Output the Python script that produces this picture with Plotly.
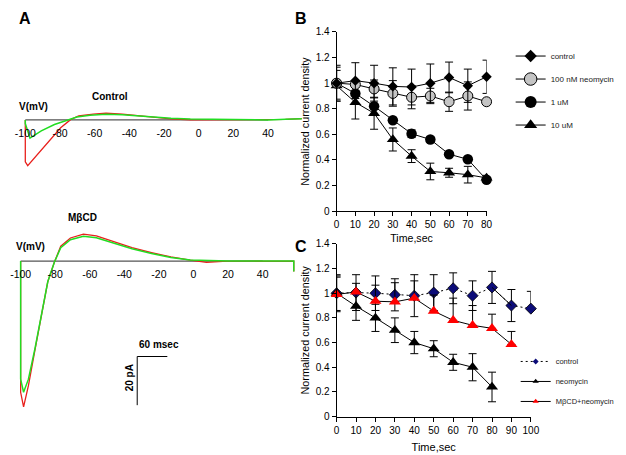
import plotly.graph_objects as go

# ---------------- data ----------------
# Panel A: current (pA) vs ramp voltage (mV)
ctrl_red_mv = [-100, -100, -98.6, -90.8, -85.2, -79.6, -73.9, -69.2, -60.8, -53.4, -44.0, -34.7, -25.4, -16.0, -4.8, 10, 20, 30, 40, 50, 59.5]
ctrl_red_pa = [0, -17.2, -18.8, -12.5, -7.9, -3.2, 0.1, 1.7, 2.4, 2.8, 2.4, 1.7, 1.2, 0.4, 0.0, 0.1, -0.1, 0.1, 0.0, 0.2, 0.5]
ctrl_grn_mv = [-100, -100, -97.3, -90.8, -83.2, -75.8, -70.2, -62.7, -53.4, -44.0, -34.7, -25.4, -16.0, -4.8, 9.9, 20, 30, 40, 50, 59.5]
ctrl_grn_pa = [0, -1.5, -7.5, -4.5, -1.9, -0.1, 1.2, 1.9, 2.3, 2.1, 1.6, 1.1, 0.7, 0.4, 0.2, 0.1, 0.2, 0.0, 0.3, 0.5]
mbcd_red_mv = [-100, -100, -98.3, -95.5, -91.7, -88.0, -84.3, -80.5, -76.8, -71.2, -63.7, -56.2, -46.8, -35.6, -24.3, -13.1, -1.9, 7.5, 16.9, 30, 40, 58, 58]
mbcd_red_pa = [0, -53.9, -59.9, -51.2, -36.5, -21.9, -8.5, -0.5, 6.1, 9.5, 11.1, 10.4, 8.1, 5.5, 3.5, 1.7, 0.4, -0.5, -0.1, 0.0, 0.1, 0.0, -4.3]
mbcd_grn_mv = [-100, -100, -98.3, -95.5, -91.7, -88.0, -84.3, -80.5, -76.8, -71.2, -63.7, -56.2, -46.8, -35.6, -24.3, -13.1, -1.9, 7.5, 20, 40, 58, 58]
mbcd_grn_pa = [0, -48.5, -53.9, -48.5, -35.9, -21.7, -8.5, -0.5, 5.5, 8.8, 10.2, 9.6, 7.5, 5.1, 3.1, 1.5, 0.4, 0.1, 0.0, 0.0, 0.0, -4.3]
a_tick_mv = [-100, -80, -60, -40, -20, 0, 20, 40]

# Panel B: normalized current density vs time
b_time = [0, 10, 20, 30, 40, 50, 60, 70, 80]
b_control = [1.00, 1.02, 1.00, 0.975, 0.97, 1.00, 1.045, 0.98, 1.05]
b_control_err = [0.14, 0.14, 0.14, 0.145, 0.14, 0.15, 0.12, 0.13, 0.13]
b_neo100nM = [1.00, 0.99, 0.955, 0.92, 0.89, 0.90, 0.855, 0.90, 0.855]
b_neo100nM_err = [0.125, 0.02, 0.07, 0.10, 0.09, 0.06, 0.075, 0.11, 0.01]
b_neo1uM = [1.00, 0.92, 0.82, 0.71, 0.605, 0.56, 0.445, 0.405, 0.245]
b_neo1uM_err = [0.02, 0.02, 0.02, 0.02, 0.03, 0.02, 0.02, 0.02, 0.02]
b_neo10uM = [0.98, 0.85, 0.765, 0.56, 0.43, 0.31, 0.30, 0.285, 0.26]
b_neo10uM_err = [0.12, 0.13, 0.125, 0.09, 0.05, 0.065, 0.035, 0.065, 0.02]

# Panel C
c_time_ctrl = [0, 10, 20, 30, 40, 50, 60, 70, 80, 90, 100]
c_control = [1.00, 1.005, 1.00, 0.987, 0.98, 1.005, 1.04, 0.98, 1.047, 0.90, 0.875]
c_control_err = [0.15, 0.145, 0.14, 0.13, 0.17, 0.145, 0.125, 0.12, 0.13, 0.13, 0.14]
c_control_err_minus = [0.15, 0.145, 0.14, 0.13, 0.17, 0.145, 0.125, 0.12, 0.13, 0.13, 0.0]
c_time_neo = [0, 10, 20, 30, 40, 50, 60, 70, 80]
c_neomycin = [1.00, 0.895, 0.80, 0.70, 0.60, 0.55, 0.44, 0.40, 0.24]
c_neomycin_err = [0.14, 0.115, 0.11, 0.10, 0.09, 0.065, 0.065, 0.11, 0.12]
c_time_mbcd = [0, 10, 20, 30, 40, 50, 60, 70, 80, 90]
c_mbcd_neo = [0.99, 1.01, 0.935, 0.93, 0.96, 0.855, 0.78, 0.74, 0.715, 0.585]
c_mbcd_neo_err = [0.14, 0.07, 0.13, 0.155, 0.14, 0.13, 0.18, 0.16, 0.115, 0.105]

y_ticks = [0, 0.2, 0.4, 0.6, 0.8, 1.0, 1.2, 1.4]

# ---------------- layout helpers ----------------
W, H = 626, 455
FONT = "Liberation Sans, Arial, sans-serif"


def fx(p):
    return p / W


def fy(p):
    return 1 - p / H


fig = go.Figure()

# ---------------- panel A traces ----------------
RED = "#e8201c"
GREEN = "#22dd22"
fig.add_trace(go.Scatter(x=ctrl_red_mv, y=ctrl_red_pa, mode="lines", line=dict(color=RED, width=1.3),
                         xaxis="x3", yaxis="y3", showlegend=False))
fig.add_trace(go.Scatter(x=ctrl_grn_mv, y=ctrl_grn_pa, mode="lines", line=dict(color=GREEN, width=1.5),
                         xaxis="x3", yaxis="y3", showlegend=False))
fig.add_trace(go.Scatter(x=mbcd_red_mv, y=mbcd_red_pa, mode="lines", line=dict(color=RED, width=1.3),
                         xaxis="x4", yaxis="y4", showlegend=False))
fig.add_trace(go.Scatter(x=mbcd_grn_mv, y=mbcd_grn_pa, mode="lines", line=dict(color=GREEN, width=1.5),
                         xaxis="x4", yaxis="y4", showlegend=False))


def eb(arr, minus=None):
    d = dict(type="data", array=arr, color="black", thickness=1, width=4, visible=True)
    if minus is not None:
        d["symmetric"] = False
        d["arrayminus"] = minus
    return d


# ---------------- panel B traces ----------------
LINE = dict(color="black", width=1)
fig.add_trace(go.Scatter(x=b_time, y=b_neo10uM, mode="lines+markers", line=LINE,
                         marker=dict(symbol="triangle-up", size=10.5, color="black"),
                         error_y=eb(b_neo10uM_err), cliponaxis=False, showlegend=False, xaxis="x", yaxis="y"))
fig.add_trace(go.Scatter(x=b_time, y=b_neo1uM, mode="lines+markers", line=LINE,
                         marker=dict(symbol="circle", size=10.5, color="black"),
                         error_y=eb(b_neo1uM_err), cliponaxis=False, showlegend=False, xaxis="x", yaxis="y"))
fig.add_trace(go.Scatter(x=b_time, y=b_neo100nM, mode="lines+markers", line=LINE,
                         marker=dict(symbol="circle", size=10, color="#c4c4c4", line=dict(color="black", width=1)),
                         error_y=eb(b_neo100nM_err), cliponaxis=False, showlegend=False, xaxis="x", yaxis="y"))
fig.add_trace(go.Scatter(x=b_time, y=b_control, mode="lines+markers", line=LINE,
                         marker=dict(symbol="diamond", size=8, color="black"),
                         error_y=eb(b_control_err), cliponaxis=False, showlegend=False, xaxis="x", yaxis="y"))

# legend entries for B
b_leg = [("control", "diamond", 9.5, "black", 0),
         ("100 nM neomycin", "circle", 12.5, "#c4c4c4", 1),
         ("1 uM", "circle", 12, "black", 0),
         ("10 uM", "triangle-up", 11.5, "black", 0)]
for i, (nm, sym, sz, col, lw) in enumerate(b_leg):
    fig.add_trace(go.Scatter(x=[None], y=[None], mode="lines+markers", name=nm, line=LINE,
                             marker=dict(symbol=sym, size=sz, color=col, line=dict(color="black", width=lw)),
                             legend="legend", legendgroup="b%d" % i, xaxis="x", yaxis="y"))

# ---------------- panel C traces ----------------
NAVY = "#0c0c78"
fig.add_trace(go.Scatter(x=c_time_ctrl, y=c_control, mode="lines+markers",
                         line=dict(color="black", width=1, dash="2px,3px"),
                         marker=dict(symbol="diamond", size=8.5, color=NAVY, line=dict(color="black", width=0.8)),
                         error_y=eb(c_control_err, c_control_err_minus), cliponaxis=False, showlegend=False,
                         xaxis="x2", yaxis="y2"))
# solid segment between 80 and 90 s of the control series
fig.add_trace(go.Scatter(x=c_time_ctrl[8:10], y=c_control[8:10], mode="lines", line=LINE,
                         cliponaxis=False, showlegend=False, xaxis="x2", yaxis="y2"))
fig.add_trace(go.Scatter(x=c_time_neo, y=c_neomycin, mode="lines+markers", line=LINE,
                         marker=dict(symbol="triangle-up", size=10.5, color="black"),
                         error_y=eb(c_neomycin_err), cliponaxis=False, showlegend=False, xaxis="x2", yaxis="y2"))
fig.add_trace(go.Scatter(x=c_time_mbcd, y=c_mbcd_neo, mode="lines+markers", line=LINE,
                         marker=dict(symbol="triangle-up", size=10.5, color="#ff0000"),
                         error_y=eb(c_mbcd_neo_err, [0] * len(c_mbcd_neo_err)), cliponaxis=False,
                         showlegend=False, xaxis="x2", yaxis="y2"))

c_leg = [("control", "diamond", 4.5, NAVY, "2px,3px"),
         ("neomycin", "triangle-up", 5.5, "black", "solid"),
         ("M\u03b2CD+neomycin", "triangle-up", 5.5, "#ff0000", "solid")]
for i, (nm, sym, sz, col, dash) in enumerate(c_leg):
    fig.add_trace(go.Scatter(x=[None], y=[None], mode="lines+markers", name=nm,
                             line=dict(color="black", width=1, dash=dash),
                             marker=dict(symbol=sym, size=sz, color=col),
                             legend="legend2", legendgroup="c%d" % i, xaxis="x2", yaxis="y2"))

# ---------------- axes ----------------
tickfont = dict(family=FONT, size=10, color="black")
common = dict(showgrid=False, zeroline=False, showline=True, linecolor="black", linewidth=1,
              ticks="outside", ticklen=4, tickwidth=1, tickcolor="black", tickfont=tickfont)

ytick_text = ["%g" % v for v in y_ticks]

fig.update_layout(
    width=W, height=H, autosize=False,
    margin=dict(l=0, r=0, t=0, b=0),
    paper_bgcolor="white", plot_bgcolor="white",
    font=dict(family=FONT, color="black"),
    xaxis=dict(domain=[fx(337.3), fx(491.7)], range=[0, 80], tickvals=b_time, anchor="y",
               title=dict(text="Time,sec", font=dict(family=FONT, size=10.6), standoff=5), **common),
    yaxis=dict(domain=[fy(210.7), fy(26.7)], range=[0, 1.4], tickvals=y_ticks, ticktext=ytick_text, anchor="x",
               title=dict(text="Normalized current density", font=dict(family=FONT, size=10.8), standoff=3),
               **common),
    xaxis2=dict(domain=[fx(337.3), fx(537.3)], range=[0, 100], tickvals=c_time_ctrl, anchor="y2",
                title=dict(text="Time,sec", font=dict(family=FONT, size=11), standoff=8), **common),
    yaxis2=dict(domain=[fy(421.7), fy(244.3)], range=[0, 1.4], tickvals=y_ticks, ticktext=ytick_text, anchor="x2",
                title=dict(text="Normalized current density", font=dict(family=FONT, size=10.8), standoff=3),
                **common),
    xaxis3=dict(domain=[fx(15.0), fx(304.2)], range=[-101, 61], anchor="free", position=fy(117),
                showgrid=False, zeroline=False, showline=False, ticks="outside", ticklen=3,
                tickcolor="rgba(0,0,0,0)", tickvals=a_tick_mv, ticktext=[str(v) for v in a_tick_mv],
                tickfont=dict(family=FONT, size=10.5, color="black")),
    yaxis3=dict(domain=[fy(170), fy(100)], range=[-21.2, 6.8], anchor="x3", visible=False),
    xaxis4=dict(domain=[fx(10.2), fx(295.0)], range=[-101, 59], anchor="free", position=fy(262),
                showgrid=False, zeroline=False, showline=False, ticks="outside", ticklen=3,
                tickcolor="rgba(0,0,0,0)", tickvals=a_tick_mv, ticktext=[str(v) for v in a_tick_mv],
                tickfont=dict(family=FONT, size=10.5, color="black")),
    yaxis4=dict(domain=[fy(418), fy(225)], range=[-62.4, 14.8], anchor="x4", visible=False),
    legend=dict(x=fx(516.5), y=fy(36.5), xanchor="left", yanchor="top", bgcolor="rgba(0,0,0,0)",
                font=dict(family=FONT, size=8, color="#222"), tracegroupgap=4, itemsizing="trace"),
    legend2=dict(x=fx(521.7), y=fy(350.2), xanchor="left", yanchor="top", bgcolor="rgba(0,0,0,0)",
                 font=dict(family=FONT, size=7.5, color="#222"), tracegroupgap=1, itemsizing="trace"),
)

# zero-current axis lines in panel A (from -100 to 40 mV)
for xr, yr in (("x3", "y3"), ("x4", "y4")):
    fig.add_shape(type="line", xref=xr, yref=yr, x0=a_tick_mv[0], x1=a_tick_mv[-1], y0=0, y1=0,
                  line=dict(color="#555555", width=1.2), layer="below")

# scale bar
fig.add_shape(type="line", xref="paper", yref="paper", x0=fx(132), x1=fx(132), y0=fy(360), y1=fy(410),
              line=dict(color="black", width=1))
fig.add_shape(type="line", xref="paper", yref="paper", x0=fx(132), x1=fx(163), y0=fy(360), y1=fy(360),
              line=dict(color="black", width=1))


# annotations
def ann(text, x, y, size=10, bold=True, angle=0):
    fig.add_annotation(text=("<b>%s</b>" % text) if bold else text, x=fx(x), y=fy(y), xref="paper", yref="paper",
                       xanchor="center", yanchor="middle", showarrow=False, textangle=angle,
                       font=dict(family=FONT, size=size, color="black"))


ann("A", 16, 12.5, size=16)
ann("B", 300.5, 12.5, size=16)
ann("C", 300.5, 247.5, size=16)
ann("Control", 104, 92.5)
ann("V(mV)", 25, 103)
ann("M\u03b2CD", 76, 217)
ann("V(mV)", 22, 247.5)
ann("60 msec", 154, 347.5)
ann("20 pA", 125, 382, angle=-90)

fig.write_html("out.html", config={"displayModeBar": False},
               post_script="document.body.style.margin='0px';")
